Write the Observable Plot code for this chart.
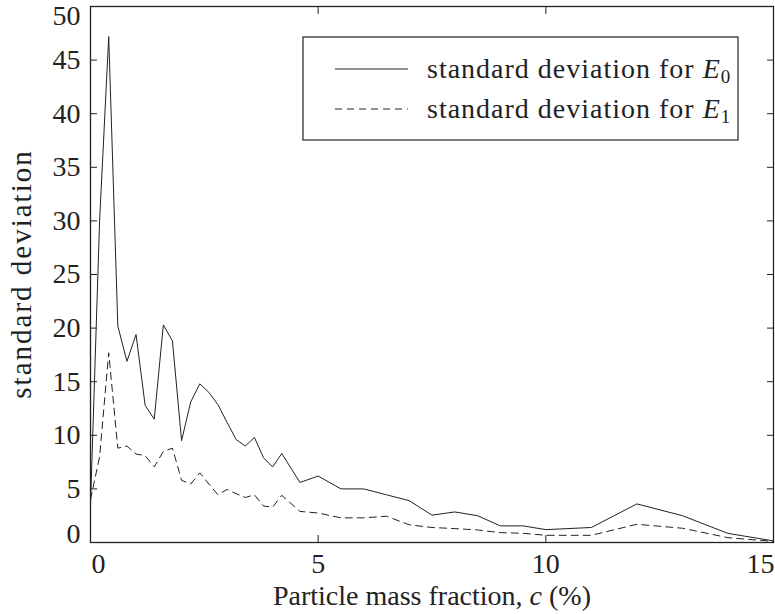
<!DOCTYPE html>
<html>
<head>
<meta charset="utf-8">
<script src="https://cdn.jsdelivr.net/npm/d3@7"></script>
<script src="https://cdn.jsdelivr.net/npm/@observablehq/plot@0.6"></script>
<style>
  html, body { margin: 0; padding: 0; background: #fff; }
  #chart svg { font-family: "Liberation Serif", "DejaVu Serif", serif; }
</style>
</head>
<body>
<div id="chart"></div>
<script>
// Particle mass fraction c (%)
const massFraction = [0, 0.2, 0.4, 0.6, 0.8, 1.0, 1.2, 1.4, 1.6, 1.8, 2.0, 2.2, 2.4, 2.6, 2.8, 3.0, 3.2, 3.4, 3.6, 3.8, 4.0, 4.2, 4.6, 5.0, 5.5, 6.0, 6.5, 7.0, 7.5, 8.0, 8.5, 9.0, 9.5, 10, 11, 12, 13, 14, 15];
// standard deviation for E0
const sdE0 = [3.5, 30, 47.2, 20.2, 16.9, 19.4, 12.8, 11.5, 20.3, 18.8, 9.5, 13.1, 14.8, 14.0, 12.85, 11.2, 9.6, 9.0, 9.8, 7.9, 7.05, 8.3, 5.6, 6.2, 5.0, 5.0, 4.45, 3.9, 2.55, 2.85, 2.5, 1.55, 1.55, 1.2, 1.4, 3.6, 2.5, 0.85, 0.15];
// standard deviation for E1
const sdE1 = [4.0, 8.0, 17.7, 8.8, 9.0, 8.25, 8.1, 7.05, 8.5, 8.8, 5.8, 5.45, 6.5, 5.45, 4.45, 4.95, 4.55, 4.2, 4.45, 3.4, 3.3, 4.4, 2.9, 2.75, 2.3, 2.3, 2.45, 1.65, 1.4, 1.3, 1.17, 0.92, 0.86, 0.67, 0.67, 1.7, 1.33, 0.45, 0.1];

const xTicks = [0, 5, 10, 15];
const yTicks = [0, 5, 10, 15, 20, 25, 30, 35, 40, 45, 50];

const dataE0 = massFraction.map((c, i) => ({c, s: sdE0[i]}));
const dataE1 = massFraction.map((c, i) => ({c, s: sdE1[i]}));

const ink = "#222";
const W = 775, H = 614;
const FS = 28;

const xInner = xTicks.slice(1, -1);
const yInner = yTicks.slice(1, -1);

const plot = Plot.plot({
  width: W,
  height: H,
  marginLeft: 90,
  marginRight: 2,
  marginTop: 6,
  marginBottom: 72,
  style: {fontFamily: "Liberation Serif, DejaVu Serif, serif", fontSize: FS + "px", color: ink, background: "#fff"},
  x: {domain: [0, 15]},
  y: {domain: [0, 50]},
  marks: [
    Plot.line(dataE0, {x: "c", y: "s", stroke: ink, strokeWidth: 1}),
    Plot.line(dataE1, {x: "c", y: "s", stroke: ink, strokeWidth: 1, strokeDasharray: "7,5"}),
    // inward ticks on all four sides
    Plot.axisX(xTicks, {anchor: "bottom", tickSize: -7, tickFormat: () => "", label: null, stroke: ink}),
    Plot.axisX(xTicks, {anchor: "top", tickSize: -7, tickFormat: () => "", label: null, stroke: ink}),
    Plot.axisY(yTicks, {anchor: "left", tickSize: -7, tickFormat: () => "", label: null, stroke: ink}),
    Plot.axisY(yTicks, {anchor: "right", tickSize: -7, tickFormat: () => "", label: null, stroke: ink}),
    // x tick labels (end labels nudged inward as in the reference)
    Plot.text(xInner, {x: d => d, frameAnchor: "bottom", dy: 30, text: d => String(d), fontSize: FS, fill: ink}),
    Plot.text([xTicks[0]], {x: d => d, frameAnchor: "bottom", dy: 30, dx: 8, text: d => String(d), fontSize: FS, fill: ink}),
    Plot.text([xTicks[xTicks.length - 1]], {x: d => d, frameAnchor: "bottom", dy: 30, dx: -13, text: d => String(d), fontSize: FS, fill: ink}),
    // y tick labels
    Plot.text(yInner, {y: d => d, frameAnchor: "left", dx: -10, textAnchor: "end", text: d => String(d), fontSize: FS, fill: ink}),
    Plot.text([yTicks[0]], {y: d => d, frameAnchor: "left", dx: -10, dy: -8, textAnchor: "end", text: d => String(d), fontSize: FS, fill: ink}),
    Plot.text([yTicks[yTicks.length - 1]], {y: d => d, frameAnchor: "left", dx: -10, dy: 10, textAnchor: "end", text: d => String(d), fontSize: FS, fill: ink}),
    Plot.frame({stroke: ink, strokeWidth: 1.3})
  ]
});

document.getElementById("chart").appendChild(plot);

const svg = d3.select(plot);

// y-axis label
svg.append("text")
  .attr("transform", `translate(31, ${(6 + 542) / 2}) rotate(-90)`)
  .attr("text-anchor", "middle")
  .attr("font-size", 29)
  .attr("letter-spacing", "2px")
  .attr("fill", ink)
  .text("standard deviation");

// x-axis label with italic c
const xl = svg.append("text")
  .attr("x", 432)
  .attr("y", 605)
  .attr("text-anchor", "middle")
  .attr("font-size", FS)
  .attr("fill", ink);
xl.append("tspan").text("Particle mass fraction, ");
xl.append("tspan").attr("font-style", "italic").text("c");
xl.append("tspan").text(" (%)");

// Legend box
const lg = svg.append("g").attr("text-anchor", "start");
lg.append("rect").attr("x", 303).attr("y", 37).attr("width", 435).attr("height", 103)
  .attr("fill", "#fff").attr("stroke", ink).attr("stroke-width", 1.2);
const items = [{sub: "0", dash: null, y: 69}, {sub: "1", dash: "7,5", y: 109}];
for (const it of items) {
  lg.append("line").attr("x1", 335).attr("x2", 408).attr("y1", it.y).attr("y2", it.y)
    .attr("stroke", ink).attr("stroke-width", 1).attr("stroke-dasharray", it.dash);
  const t = lg.append("text").attr("x", 427).attr("y", it.y + 9).attr("text-anchor", "start")
    .attr("font-size", FS).attr("letter-spacing", "1px").attr("fill", ink);
  t.append("tspan").text("standard deviation for ");
  t.append("tspan").attr("font-style", "italic").text("E");
  t.append("tspan").attr("font-size", 19).attr("dy", 5).text(it.sub);
}
</script>
</body>
</html>
